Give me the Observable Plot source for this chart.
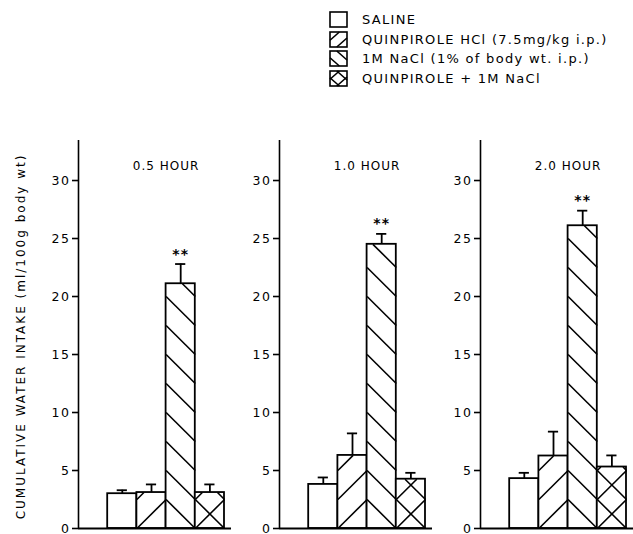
<!DOCTYPE html>
<html><head><meta charset="utf-8">
<script src="https://cdn.jsdelivr.net/npm/d3@7"></script>
<script src="https://cdn.jsdelivr.net/npm/@observablehq/plot@0.6"></script>
<style>
body{margin:0;background:#fff;}
#wrap{position:relative;width:633px;height:534px;font-family:"DejaVu Sans",sans-serif;background:#fff;}
#legend{position:absolute;left:0;top:0;width:633px;height:100px;}
.row{position:absolute;left:329px;height:15px;display:flex;align-items:center;font-size:13px;letter-spacing:1.3px;color:#000;white-space:nowrap;}
.row svg{margin-right:14px;flex:none}
#chart{position:absolute;left:0;top:100px;}
#chart svg text{letter-spacing:1px}
#chart g[aria-label="y-axis tick label"] text{letter-spacing:1.5px}
</style></head>
<body><div id="wrap"><div id="legend"></div><div id="chart"></div></div>
<script>
// ---- data ----
const times = ["0.5 HOUR", "1.0 HOUR", "2.0 HOUR"];
const groups = ["SALINE", "QUINPIROLE HCl (7.5mg/kg i.p.)", "1M NaCl (1% of body wt. i.p.)", "QUINPIROLE + 1M NaCl"];
const patterns = ["none", "/", "\\", "x"];
const means = [
  [3.0, 3.1, 21.1, 3.1],
  [3.8, 6.3, 24.5, 4.25],
  [4.3, 6.25, 26.1, 5.3]
];
const sems = [
  [0.3, 0.7, 1.7, 0.7],
  [0.6, 1.9, 0.9, 0.55],
  [0.5, 2.1, 1.3, 1.0]
];
const sig = [
  ["", "", "**", ""],
  ["", "", "**", ""],
  ["", "", "**", ""]
];
const yTicks = [0, 5, 10, 15, 20, 25, 30];
const yLabel = "CUMULATIVE WATER INTAKE (ml/100g body wt)";
const HATCH = 2.5; // hatch period in y units

// ---- build table ----
const rows = [];
times.forEach((t, i) => groups.forEach((g, j) => rows.push({
  time: t, group: g, slot: j + 1, mean: means[i][j], sem: sems[i][j], pattern: patterns[j], sig: sig[i][j]
})));

const hatch = [];
for (const r of rows) {
  const v = r.mean, s = r.slot;
  if (r.pattern === "/" || r.pattern === "x") {
    for (let y0 = 0; y0 < v - 1e-9; y0 += HATCH) {
      const y2 = Math.min(y0 + HATCH, v);
      hatch.push({time: r.time, x1: s, y1: y0, x2: s + (y2 - y0) / HATCH, y2});
    }
  }
  if (r.pattern === "\\" || r.pattern === "x") {
    for (let y0 = 0; y0 < v - 1e-9; y0 += HATCH) {
      const yTop = y0 + HATCH;
      const y1 = Math.min(yTop, v);
      hatch.push({time: r.time, x1: s + (yTop - y1) / HATCH, y1, x2: s + 1, y2: y0});
    }
  }
}
const titleX = (d3.min(rows, d => d.slot) + d3.max(rows, d => d.slot) + 1) / 2;

const plot = Plot.plot({
  width: 633, height: 434,
  marginTop: 40, marginBottom: 6, marginLeft: 78, marginRight: 0,
  fx: {domain: times, paddingInner: 0.239, paddingOuter: 0, axis: null, label: null},
  x: {domain: [0, 5.24], axis: null},
  y: {domain: [0, 33.45], axis: null},
  style: {fontFamily: "DejaVu Sans, sans-serif", fontSize: "12px", color: "#000", background: "#fff", overflow: "visible"},
  marks: [
    Plot.rectY(rows, {fx: "time", x1: "slot", x2: d => d.slot + 1, y: "mean", fill: "#fff", stroke: "#000", strokeWidth: 1.8}),
    Plot.link(hatch, {fx: "time", x1: "x1", y1: "y1", x2: "x2", y2: "y2", stroke: "#000", strokeWidth: 1.6}),
    Plot.ruleX(rows, {fx: "time", x: d => d.slot + 0.5, y1: "mean", y2: d => d.mean + d.sem, stroke: "#000", strokeWidth: 1.8}),
    Plot.ruleY(rows, {fx: "time", y: d => d.mean + d.sem, x1: "slot", x2: d => d.slot + 1, insetLeft: 9.5, insetRight: 9.5, stroke: "#000", strokeWidth: 1.8}),
    Plot.text(rows.filter(d => d.sig), {fx: "time", x: d => d.slot + 0.5, y: d => d.mean + d.sem, text: "sig", dy: -10, fontWeight: "bold", fontSize: 14}),
    Plot.text(times, {fx: d => d, x: () => titleX, frameAnchor: "top", dy: 21, text: d => d, fontSize: 12}),
    Plot.ruleX([0], {stroke: "#000", strokeWidth: 1.6}),
    Plot.ruleY([0], {stroke: "#000", strokeWidth: 1.8}),
    Plot.axisY({ticks: yTicks, tickSize: 6, tickPadding: 2, facetAnchor: null, label: null, fontSize: 12.5, strokeWidth: 1.6}),
    Plot.text([yLabel], {fx: () => times[0], frameAnchor: "left", textAnchor: "middle", rotate: -90, dx: -57, dy: 2, text: d => d, fontSize: 12})
  ]
});
document.getElementById("chart").appendChild(plot);
plot.querySelectorAll("text").forEach(t => {
  if (t.textContent === yLabel) t.style.letterSpacing = "2px";
});

// ---- legend ----
function swatch(p) {
  const w = 17, h = 15;
  let lines = "";
  if (p === "/" || p === "x") lines += `<line x1="0" y1="${h*0.55}" x2="${w*0.55}" y2="0"/><line x1="${w*0.4}" y1="${h}" x2="${w}" y2="${h*0.4}"/>`;
  if (p === "\\" || p === "x") lines += `<line x1="0" y1="${h*0.45}" x2="${w*0.55}" y2="${h}"/><line x1="${w*0.4}" y1="0" x2="${w}" y2="${h*0.6}"/>`;
  return `<svg width="${w+2}" height="${h+2}" viewBox="-1 -1 ${w+2} ${h+2}"><g stroke="#000" stroke-width="1.6" fill="none">${lines}<rect x="0" y="0" width="${w}" height="${h}"/></g></svg>`;
}
const legend = document.getElementById("legend");
groups.forEach((g, i) => {
  const row = document.createElement("div");
  row.className = "row";
  row.style.top = (12 + 19.7 * i) + "px";
  row.innerHTML = swatch(patterns[i]) + `<span>${g}</span>`;
  legend.appendChild(row);
});
</script>
</body></html>
